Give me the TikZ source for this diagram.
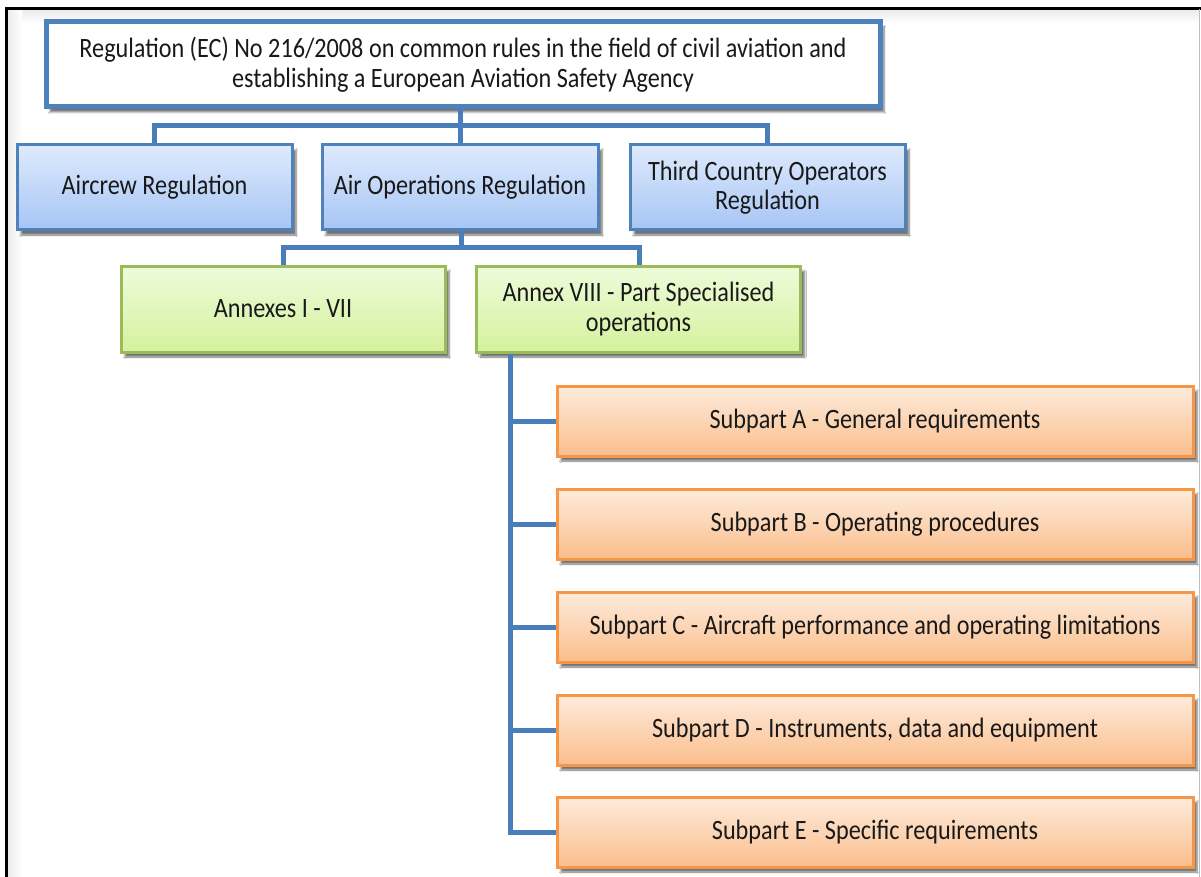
\documentclass[tikz,border=0pt]{standalone}
\usepackage{fontspec}
\setmainfont{Carlito}[FakeStretch=0.865]
\usetikzlibrary{shadows.blur,calc}
\definecolor{linecol}{RGB}{74,126,187}
\definecolor{blueborder}{RGB}{79,129,189}
\definecolor{bluetop}{RGB}{222,234,252}
\definecolor{bluebot}{RGB}{166,197,245}
\definecolor{greenborder}{RGB}{155,187,89}
\definecolor{greentop}{RGB}{238,251,218}
\definecolor{greenbot}{RGB}{212,242,158}
\definecolor{orangeborder}{RGB}{247,150,70}
\definecolor{orangetop}{RGB}{253,235,220}
\definecolor{orangebot}{RGB}{251,190,140}
\definecolor{txt}{RGB}{25,25,25}
\tikzset{
  box/.style={draw, inner sep=0pt, align=center, text=txt,
    font=\fontsize{28}{29.5}\selectfont,
    blur shadow={shadow xshift=4pt, shadow yshift=-5pt, shadow blur steps=6, shadow opacity=55}},
  topbox/.style={box, draw=blueborder, line width=5pt, fill=white,
    minimum width=834pt, minimum height=85pt},
  bluebox/.style={box, draw=blueborder, line width=3pt, top color=bluetop, bottom color=bluebot,
    minimum width=275pt, minimum height=85pt},
  greenbox/.style={box, draw=greenborder, line width=3pt, top color=greentop, bottom color=greenbot,
    minimum width=324pt, minimum height=86pt},
  orangebox/.style={box, draw=orangeborder, line width=3pt, top color=orangetop, bottom color=orangebot,
    minimum width=636pt, minimum height=70pt},
  conn/.style={draw=linecol, line width=5pt, line join=miter},
  frame/.style={draw=black, line width=2.5pt}
}
\begin{document}
\begin{tikzpicture}[x=1pt,y=-1pt]
\useasboundingbox (0,0) rectangle (1201,877);
\fill[white] (0,0) rectangle (1201,877);
% frame with faint inner shading
\shade[top color=black!8, bottom color=white] (7,9) rectangle (1199,24);
\shade[left color=black!8, right color=white] (7,9) rectangle (22,877);
\draw[frame] (6.5,877) -- (6.5,8.5) -- (1201,8.5);
\draw[black!25, line width=1pt] (1199.5,9) -- (1199.5,877);

\coordinate (bus1) at (460,126);
\coordinate (bus2) at (461,248);
\coordinate (spine) at (510,352);

% nodes
\node[topbox] (top) at (463,64.5) {Regulation (EC) No 216/2008 on common rules in the field of civil aviation and\\establishing a European Aviation Safety Agency};
\node[bluebox] (aircrew) at (154.5,187.5) {Aircrew Regulation};
\node[bluebox, minimum width=276pt] (airops) at (460,187.5) {Air Operations Regulation};
\node[bluebox] (third) at (767.5,187.5) {Third Country Operators\\Regulation};
\node[greenbox] (annexa) at (283,309) {Annexes I - VII};
\node[greenbox] (annexb) at (638.5,309) {Annex VIII - Part Specialised\\operations};
\node[orangebox] (subA) at (875,421) {Subpart A - General requirements};
\node[orangebox] (subB) at (875,524) {Subpart B - Operating procedures};
\node[orangebox] (subC) at (875,627) {Subpart C - Aircraft performance and operating limitations};
\node[orangebox] (subD) at (875,730) {Subpart D - Instruments, data and equipment};
\node[orangebox] (subE) at (875,832) {Subpart E - Specific requirements};

% connectors
\draw[conn] (top.south -| bus1) -- (bus1);
\draw[conn] (aircrew.north) |- (bus1) -| (third.north);
\draw[conn] (bus1) -- (airops.north -| bus1);
\draw[conn] (airops.south -| bus2) -- (bus2);
\draw[conn] (annexa.north) |- (bus2) -| (annexb.north -| 639,0);
\draw[conn] (spine |- annexb.south) |- (subE.west);
\foreach \s in {A,B,C,D}{
  \draw[conn] (sub\s.west) -- (sub\s.west -| spine);
}
\end{tikzpicture}
\end{document}
